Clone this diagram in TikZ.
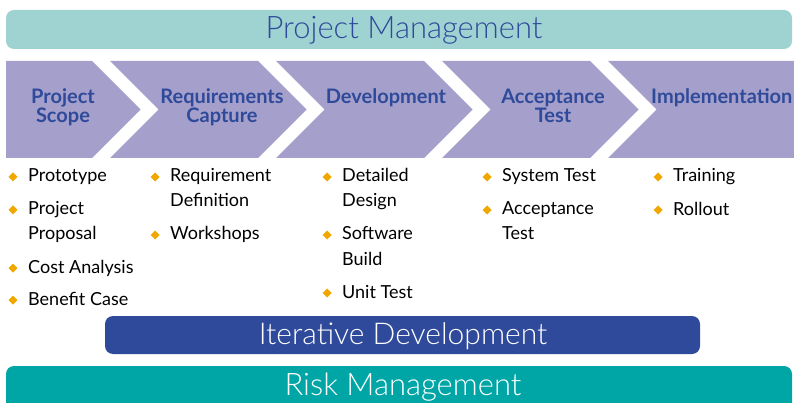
\documentclass[tikz,border=0pt]{standalone}
\usepackage{fontspec}
\setmainfont{Lato}
\newfontfamily\lightfont{Lato Light}
\definecolor{pmteal}{HTML}{9FD3D2}
\definecolor{chev}{HTML}{A5A0CB}
\definecolor{navy}{HTML}{2F4A9A}
\definecolor{risk}{HTML}{00A6A6}
\definecolor{bulc}{HTML}{F0A800}
\tikzset{
  bar/.style={rounded corners=8pt},
  title/.style={inner sep=0pt, anchor=base, font=\lightfont\fontsize{31}{31}\selectfont},
  head/.style={inner sep=0pt, anchor=base, align=center, text=navy,
     font=\fontsize{20}{19}\selectfont\bfseries},
  item/.style={inner sep=0pt, anchor=base west, align=left,
     font=\fontsize{18}{25}\selectfont},
  bul/.style={fill=bulc},
}
\newcommand{\dia}[2]{\fill[bul] (#1,#2-4.5) -- (#1+4.5,#2) -- (#1,#2+4.5) -- (#1-4.5,#2) -- cycle;}
\begin{document}
\begin{tikzpicture}[x=1pt,y=-1pt]
\useasboundingbox (0,0) rectangle (794,403);
\clip (0,0) rectangle (794,403);
% top bar
\fill[pmteal,bar] (6,10) rectangle (792,49);
\node[title,text=navy] (pm) at (404,39) {Project Management};
% chevrons
\fill[chev] (6,61) -- (92,61) -- (140.5,109.5) -- (92,158) -- (6,158) -- cycle;
\foreach \i in {0,1,2} {
  \pgfmathsetmacro\L{110+166*\i}
  \pgfmathsetmacro\R{258+166*\i}
  \fill[chev] (\L,61) -- (\R,61) -- (\R+48.5,109.5) -- (\R,158) -- (\L,158) -- (\L+48.5,109.5) -- cycle;
}
\fill[chev] (608,61) -- (800,61) -- (800,158) -- (608,158) -- (656.5,109.5) -- cycle;
% two-line nodes are placed at the baseline of their last line
\node[head] (h1) at (63,123) {Project\\Scope};
\node[head] (h2) at (222,123) {Requirements\\Capture};
\node[head] (h3) at (386,104) {Development};
\node[head] (h4) at (553,123) {Acceptance\\Test};
\node[head,anchor=base west] (h5) at (651,104) {Implementation};
% bullets column 1
\dia{13}{177}\node[item] (a1) at (28,182) {Prototype};
\dia{13}{210}\node[item] (a2) at (28,240) {Project\\Proposal};
\dia{13}{268}\node[item] (a3) at (28,273) {Cost Analysis};
\dia{13}{300}\node[item] (a4) at (28,305) {Benefit Case};
% column 2
\dia{155}{177}\node[item] (b1) at (170,207) {Requirement\\Definition};
\dia{155}{235}\node[item] (b2) at (170,240) {Workshops};
% column 3
\dia{327}{177}\node[item] (c1) at (342,207) {Detailed\\Design};
\dia{327}{235}\node[item] (c2) at (342,265) {Software\\Build};
\dia{327}{293}\node[item] (c3) at (342,298) {Unit Test};
% column 4
\dia{487}{177}\node[item] (d1) at (502,182) {System Test};
\dia{487}{210}\node[item] (d2) at (502,240) {Acceptance\\Test};
% column 5
\dia{658}{177}\node[item] (e1) at (673,182) {Training};
\dia{658}{210}\node[item] (e2) at (673,215) {Rollout};
% iterative
\fill[navy,bar] (105,316) rectangle (700,354);
\node[title,text=white,font=\lightfont\fontsize{30}{30}\selectfont] (it) at (403,344) {Iterative Development};
% risk
\fill[risk,bar] (6,366) rectangle (792,420);
\node[title,text=white] (rm) at (403,395) {Risk Management};
\end{tikzpicture}
\end{document}
